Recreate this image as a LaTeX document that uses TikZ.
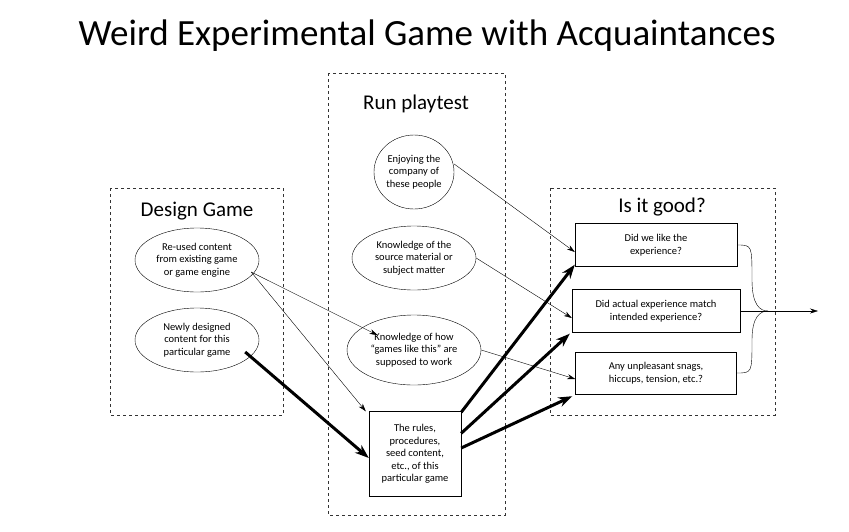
\documentclass[tikz,border=0pt]{standalone}
\usepackage{fontspec}
\setmainfont{Carlito}
\usetikzlibrary{arrows.meta, shapes.geometric}

\tikzset{
	stage/.style={draw, dashed, gray!40!black},
	idea/.style={draw, ellipse, inner sep=0pt, align=center, font=\fontsize{10.5}{12.5}\selectfont},
	check/.style={draw, rectangle, align=center, font=\fontsize{10.5}{12.5}\selectfont},
	heading/.style={font=\fontsize{21}{24}\selectfont},
	thin arrow/.style={-{Stealth[length=8pt,width=5pt]}},
	thick arrow/.style={line width=3pt, -{Stealth[length=14pt,width=10pt]}}
}

\begin{document}
\begin{tikzpicture}[x=1pt, y=-1pt]

% Frame.

	\useasboundingbox (0,0) rectangle (849,531);
	\node[font=\fontsize{37}{40}\selectfont] (title) at (427,36) {Weird Experimental Game with Acquaintances};

% Stage boxes.

	\draw[stage] (110,188) rectangle (283,415);
	\draw[stage] (328,73) rectangle (505,515);
	\draw[stage] (550,188) rectangle (775,415);
	\node[heading] (design) at (197,211) {Design Game};
	\node[heading] (run) at (416,104) {Run playtest};
	\node[heading] (good) at (662,207) {Is it good?};

% Design nodes.

	\node[idea, minimum width=124pt, minimum height=64pt] (reused) at (197,260) {Re-used content\\from existing game\\or game engine};
	\node[idea, minimum width=124pt, minimum height=64pt] (newly) at (197,340) {Newly designed\\content for this\\particular game};

% Playtest nodes.

	\node[idea, minimum width=80pt, minimum height=74pt] (company) at (414,172) {Enjoying the\\company of\\these people};
	\node[idea, minimum width=124pt, minimum height=64pt] (source) at (414,258) {Knowledge of the\\source material or\\subject matter};
	\node[idea, minimum width=134pt, minimum height=70pt] (howto) at (414,350) {Knowledge of how\\``games like this'' are\\supposed to work};
	\node[check, minimum width=92pt, minimum height=85pt] (rules) at (415,454) {The rules,\\procedures,\\seed content,\\etc., of this\\particular game};

% Check nodes.

	\node[check, minimum width=162pt, minimum height=43pt] (like) at (656,245) {Did we like the\\experience?};
	\node[check, minimum width=168pt, minimum height=43pt] (match) at (656,311) {Did actual experience match\\intended experience?};
	\node[check, minimum width=161pt, minimum height=42pt] (snags) at (656,373) {Any unpleasant snags,\\hiccups, tension, etc.?};

	\coordinate (merge) at (768,311);
	\coordinate (out) at (818,311);

% Thin arrows.

	\draw[thin arrow] ([yshift=8pt]company.east) -- ([yshift=-7pt]like.west);
	\draw[thin arrow] (source.east) -- ([yshift=-7pt]match.west);
	\draw[thin arrow] (howto.east) -- ([yshift=-6pt]snags.west);
	\draw[thin arrow] ([shift={(-8,12)}]reused.east) -- ([xshift=-3pt]rules.north west);
	\draw[thin arrow] ([shift={(-8,12)}]reused.east) -- ([shift={(11,10)}]howto.north west);

% Thick arrows.

	\draw[thick arrow] ([shift={(-14,12)}]newly.east) -- ([yshift=-4pt]rules.west);
	\draw[thick arrow] ([yshift=-1pt]rules.north east) -- ([yshift=2pt]like.south west);
	\draw[thick arrow] ([yshift=-22pt]rules.north east) -- ([shift={(-2,1)}]match.south west);
	\draw[thick arrow] ([yshift=6pt]rules.east) -- ([shift={(-3,2)}]snags.south west);

% Merge curves.

	\draw (like.east) .. controls (752,245) and (752,245) .. (752,280) .. controls (752,305) and (760,311) .. (merge);
	\draw (snags.east) .. controls (752,373) and (752,373) .. (752,340) .. controls (752,317) and (760,311) .. (merge);
	\draw[thin arrow] (match.east) -- (out);

\end{tikzpicture}
\end{document}
